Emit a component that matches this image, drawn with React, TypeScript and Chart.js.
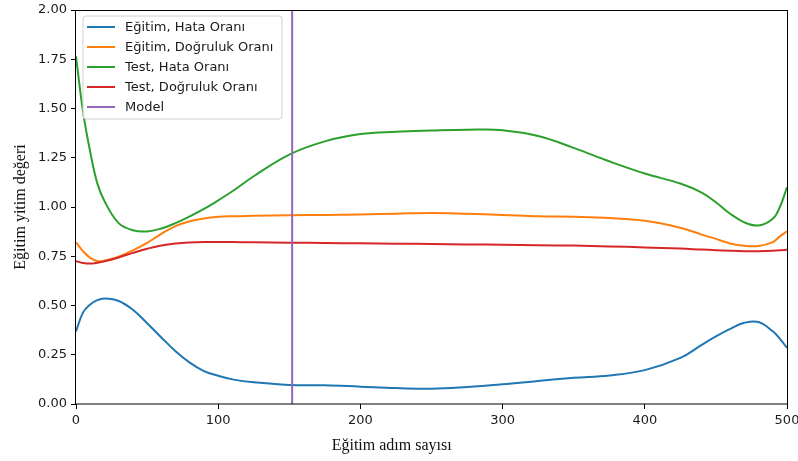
import React, { useEffect, useRef } from "react";
import { Chart, registerables } from "chart.js";

Chart.register(...registerables);

const steps = [0, 5, 10, 15, 20, 30, 40, 50, 60, 70, 80, 90, 100, 110, 125, 150, 175, 200, 225, 250, 275, 300, 325, 350, 375, 400, 425, 440, 450, 460, 470, 480, 490, 495, 500];
const trainLoss = [0.369, 0.465, 0.505, 0.527, 0.535, 0.523, 0.478, 0.41, 0.338, 0.268, 0.21, 0.167, 0.143, 0.125, 0.11, 0.097, 0.095, 0.088, 0.081, 0.077, 0.086, 0.1, 0.117, 0.133, 0.145, 0.172, 0.234, 0.3, 0.343, 0.381, 0.412, 0.416, 0.369, 0.331, 0.285];
const trainAcc = [0.821, 0.775, 0.742, 0.726, 0.728, 0.748, 0.78, 0.818, 0.864, 0.903, 0.928, 0.942, 0.95, 0.953, 0.955, 0.958, 0.96, 0.962, 0.966, 0.97, 0.966, 0.96, 0.953, 0.95, 0.944, 0.93, 0.895, 0.86, 0.838, 0.815, 0.803, 0.802, 0.822, 0.851, 0.877];
const testLoss = [1.765, 1.48, 1.28, 1.12, 1.03, 0.918, 0.882, 0.876, 0.891, 0.918, 0.952, 0.99, 1.034, 1.08, 1.156, 1.266, 1.333, 1.37, 1.382, 1.388, 1.392, 1.39, 1.36, 1.3, 1.232, 1.17, 1.119, 1.073, 1.024, 0.966, 0.922, 0.906, 0.94, 1.0, 1.1];
const testAcc = [0.725, 0.716, 0.713, 0.717, 0.724, 0.744, 0.767, 0.788, 0.805, 0.815, 0.82, 0.822, 0.822, 0.822, 0.821, 0.819, 0.817, 0.816, 0.814, 0.812, 0.81, 0.809, 0.806, 0.804, 0.8, 0.795, 0.789, 0.784, 0.781, 0.778, 0.776, 0.776, 0.778, 0.78, 0.783];
const modelStep = 152;

const seriesNames = ["Eğitim, Hata Oranı", "Eğitim, Doğruluk Oranı", "Test, Hata Oranı", "Test, Doğruluk Oranı", "Model"];
const seriesColors = ["#1f77b4", "#ff7f0e", "#2ca02c", "#d62728", "#9467bd"];
const xTitle = "Eğitim adım sayısı";
const yTitle = "Eğitim yitim değeri";

const toPoints = (ys: number[]) => ys.map((y, i) => ({ x: steps[i], y }));

const framePlugin = {
  id: "frameAndLegend",
  afterDraw(chart: any) {
    const { ctx, chartArea } = chart;
    const { left, top, right, bottom } = chartArea;
    ctx.save();
    ctx.strokeStyle = "#000";
    ctx.lineWidth = 1;
    ctx.strokeRect(Math.round(left) - 0.5, Math.round(top) + 0.5, Math.round(right - left) + 1, Math.round(bottom - top) - 0.5);

    // axis titles
    ctx.fillStyle = "#111";
    ctx.font = "16px 'Liberation Serif'";
    ctx.textAlign = "center";
    ctx.textBaseline = "middle";
    ctx.fillText(xTitle, left + (right - left) * 0.444, 446);
    ctx.save();
    ctx.translate(21, (top + bottom) / 2);
    ctx.rotate(-Math.PI / 2);
    ctx.fillText(yTitle, 0, 0);
    ctx.restore();

    // legend
    const bx = left + 7;
    const by = top + 6;
    const bw = 199;
    const bh = 103;
    const r = 3;
    ctx.beginPath();
    ctx.moveTo(bx + r, by);
    ctx.lineTo(bx + bw - r, by);
    ctx.quadraticCurveTo(bx + bw, by, bx + bw, by + r);
    ctx.lineTo(bx + bw, by + bh - r);
    ctx.quadraticCurveTo(bx + bw, by + bh, bx + bw - r, by + bh);
    ctx.lineTo(bx + r, by + bh);
    ctx.quadraticCurveTo(bx, by + bh, bx, by + bh - r);
    ctx.lineTo(bx, by + r);
    ctx.quadraticCurveTo(bx, by, bx + r, by);
    ctx.closePath();
    ctx.fillStyle = "rgba(255,255,255,0.8)";
    ctx.fill();
    ctx.strokeStyle = "#d0d0d0";
    ctx.lineWidth = 1;
    ctx.stroke();

    ctx.font = "13px 'DejaVu Sans'";
    ctx.textBaseline = "middle";
    ctx.textAlign = "left";
    seriesNames.forEach((name, i) => {
      const cy = by + 11 + i * 20;
      ctx.strokeStyle = seriesColors[i];
      ctx.lineWidth = 2;
      ctx.beginPath();
      ctx.moveTo(bx + 4, cy);
      ctx.lineTo(bx + 32, cy);
      ctx.stroke();
      ctx.fillStyle = "#1a1a1a";
      ctx.fillText(name, bx + 42, cy + 1);
    });
    ctx.restore();
  },
};

export default function App() {
  const ref = useRef<HTMLCanvasElement | null>(null);

  useEffect(() => {
    document.body.style.margin = "0";
    const canvas = ref.current;
    if (!canvas) return;
    const lineDs = (i: number, data: number[], order: number) => ({
      label: seriesNames[i],
      data: toPoints(data),
      borderColor: seriesColors[i],
      backgroundColor: seriesColors[i],
      borderWidth: 2,
      pointRadius: 0,
      fill: false,
      tension: 0.4,
      order,
    });
    const chart = new Chart(canvas, {
      type: "line",
      data: {
        datasets: [
          lineDs(0, trainLoss, 4),
          lineDs(1, trainAcc, 3),
          lineDs(2, testLoss, 2),
          lineDs(3, testAcc, 1),
          {
            label: seriesNames[4],
            data: [
              { x: modelStep, y: 0 },
              { x: modelStep, y: 2 },
            ],
            borderColor: seriesColors[4],
            backgroundColor: seriesColors[4],
            borderWidth: 2,
            pointRadius: 0,
            fill: false,
            order: 0,
          },
        ],
      },
      options: {
        animation: false,
        responsive: false,
        devicePixelRatio: 1,
        layout: { padding: { left: 0, right: 11, top: 10, bottom: 0 } },
        plugins: {
          legend: { display: false },
          tooltip: { enabled: false },
        },
        scales: {
          x: {
            type: "linear",
            min: 0,
            max: 500,
            border: { display: false },
            grid: { drawOnChartArea: false, drawTicks: true, tickLength: 5, tickColor: "#000", lineWidth: 1 },
            ticks: { stepSize: 100, padding: 4, color: "#1a1a1a", font: { family: "'DejaVu Sans'", size: 13 }, maxRotation: 0 },
            title: { display: false },
            afterFit: (scale: any) => {
              scale.height = 57;
              scale.paddingLeft = 0;
              scale.paddingRight = 0;
            },
          },
          y: {
            type: "linear",
            min: 0,
            max: 2,
            border: { display: false },
            grid: { drawOnChartArea: false, drawTicks: true, tickLength: 5, tickColor: "#000", lineWidth: 1 },
            ticks: {
              stepSize: 0.25,
              padding: 4,
              color: "#1a1a1a",
              font: { family: "'DejaVu Sans'", size: 13 },
              callback: (v: any) => Number(v).toFixed(2),
            },
            title: { display: false },
            afterFit: (scale: any) => {
              scale.width = 76;
              scale.paddingTop = 0;
              scale.paddingBottom = 0;
            },
          },
        },
      },
      plugins: [framePlugin],
    });
    return () => chart.destroy();
  }, []);

  return (
    <div style={{ position: "absolute", left: 0, top: 0, width: 798, height: 461, background: "#fff" }}>
      <canvas ref={ref} width={798} height={461} style={{ width: 798, height: 461, display: "block" }} />
    </div>
  );
}
